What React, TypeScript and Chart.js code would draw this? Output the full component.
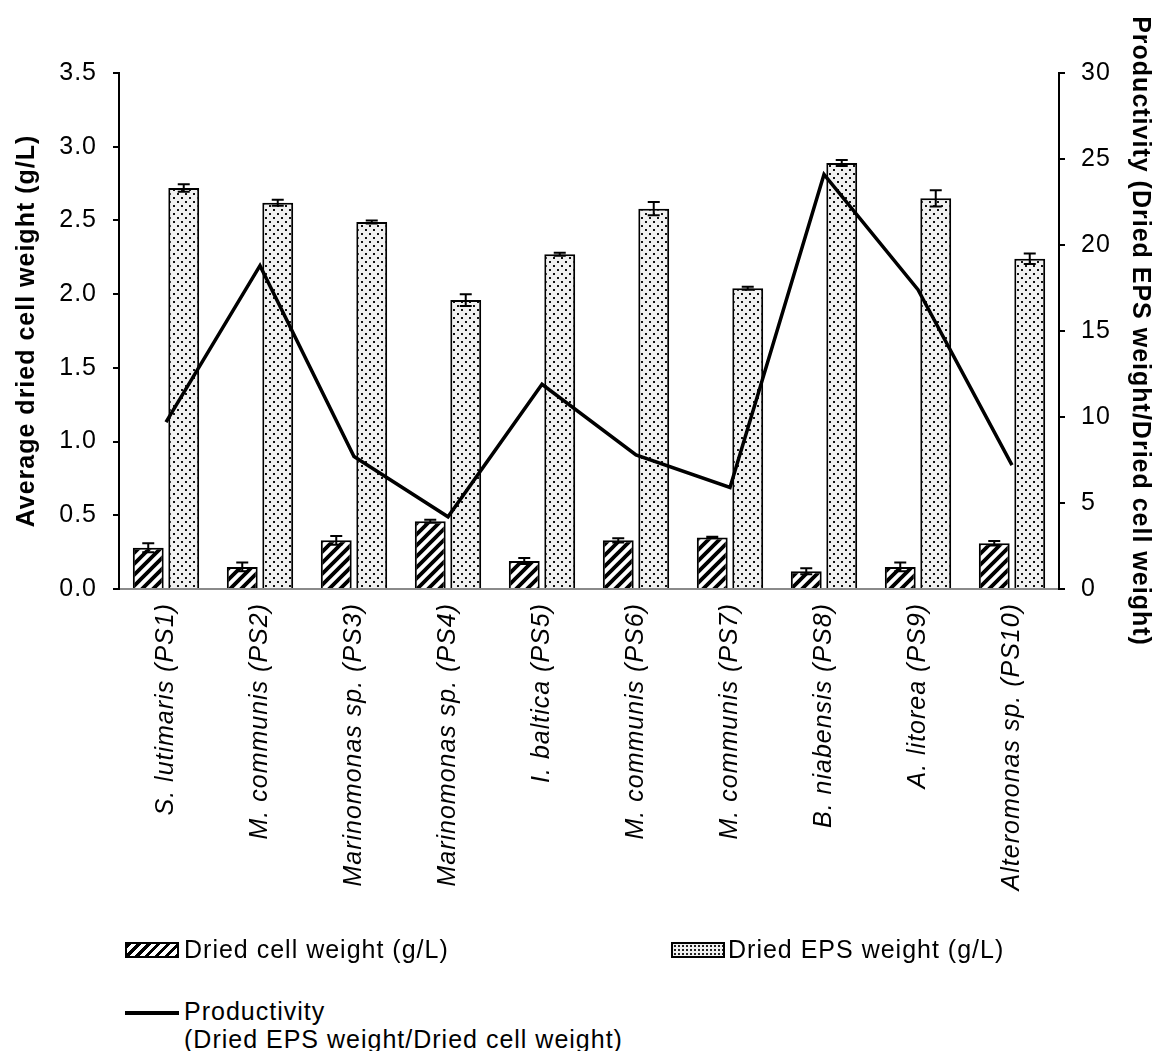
import React, { useEffect, useRef } from "react";
import { Chart, registerables } from "chart.js";

Chart.register(...registerables);

const categories = [
  "S. lutimaris (PS1)",
  "M. communis (PS2)",
  "Marinomonas sp. (PS3)",
  "Marinomonas sp. (PS4)",
  "I. baltica (PS5)",
  "M. communis (PS6)",
  "M. communis (PS7)",
  "B. niabensis (PS8)",
  "A. litorea (PS9)",
  "Alteromonas sp. (PS10)",
];
const cellWeight = [0.28, 0.15, 0.33, 0.46, 0.19, 0.33, 0.35, 0.12, 0.15, 0.31];
const cellWeightError = [0.03, 0.03, 0.03, 0.01, 0.02, 0.015, 0.005, 0.02, 0.03, 0.015];
const epsWeight = [2.72, 2.62, 2.49, 1.96, 2.27, 2.58, 2.04, 2.89, 2.65, 2.24];
const epsWeightError = [0.025, 0.02, 0.01, 0.04, 0.01, 0.045, 0.01, 0.02, 0.055, 0.035];
const productivity = [9.7, 18.8, 7.7, 4.2, 11.9, 7.8, 5.9, 24.1, 17.4, 7.2];
const leftAxisTicks = [0, 0.5, 1.0, 1.5, 2.0, 2.5, 3.0, 3.5];
const rightAxisTicks = [0, 5, 10, 15, 20, 25, 30];

const FONT = "'Liberation Sans', Arial, sans-serif";
const FS = 25;
const SPACING = "1px";

function makeHatch(): CanvasPattern | string {
  const c = document.createElement("canvas");
  const s = 11;
  c.width = s;
  c.height = s;
  const g = c.getContext("2d");
  if (!g) return "#888";
  g.fillStyle = "#ffffff";
  g.fillRect(0, 0, s, s);
  g.strokeStyle = "#000";
  g.lineWidth = 3.8;
  g.beginPath();
  g.moveTo(-s, 2 * s);
  g.lineTo(2 * s, -s);
  g.moveTo(-s, s);
  g.lineTo(s, -s);
  g.moveTo(0, 2 * s);
  g.lineTo(2 * s, 0);
  g.stroke();
  return g.createPattern(c, "repeat") as CanvasPattern;
}

function makeDots(): CanvasPattern | string {
  const c = document.createElement("canvas");
  const s = 8;
  c.width = s;
  c.height = s;
  const g = c.getContext("2d");
  if (!g) return "#eee";
  g.fillStyle = "#f1f1f1";
  g.fillRect(0, 0, s, s);
  g.fillStyle = "#111";
  g.fillRect(1, 1, 2, 2);
  g.fillRect(5, 5, 2, 2);
  return g.createPattern(c, "repeat") as CanvasPattern;
}

const setSpacing = (chart: any) => {
  try {
    (chart.ctx as any).letterSpacing = SPACING;
  } catch (e) {
    /* unsupported */
  }
};

const letterSpacingPlugin = {
  id: "letterSpacing",
  beforeUpdate: setSpacing,
  beforeLayout: setSpacing,
  beforeDraw: setSpacing,
  resize: setSpacing,
};

const errorBarPlugin = {
  id: "errorBars",
  afterDatasetsDraw(chart: any) {
    const ctx = chart.ctx;
    const y = chart.scales.y;
    const sets: [number, number[], number[]][] = [
      [0, cellWeight, cellWeightError],
      [1, epsWeight, epsWeightError],
    ];
    ctx.save();
    ctx.strokeStyle = "#000";
    ctx.lineWidth = 2;
    for (const [idx, vals, errs] of sets) {
      const meta = chart.getDatasetMeta(idx);
      meta.data.forEach((bar: any, i: number) => {
        const x = bar.x;
        const top = y.getPixelForValue(vals[i] + errs[i]);
        const bot = y.getPixelForValue(vals[i] - errs[i]);
        ctx.beginPath();
        ctx.moveTo(x, top);
        ctx.lineTo(x, bot);
        ctx.moveTo(x - 6, top);
        ctx.lineTo(x + 6, top);
        ctx.moveTo(x - 6, bot);
        ctx.lineTo(x + 6, bot);
        ctx.stroke();
      });
    }
    ctx.restore();
  },
};

export default function App() {
  const ref = useRef<HTMLCanvasElement | null>(null);

  useEffect(() => {
    if (!ref.current) return;
    const hatch = makeHatch();
    const dots = makeDots();
    const chart = new Chart(ref.current, {
      type: "bar",
      data: {
        labels: categories,
        datasets: [
          {
            type: "bar",
            label: "Dried cell weight (g/L)",
            data: cellWeight,
            backgroundColor: hatch as any,
            borderColor: "#000",
            borderWidth: 2,
            yAxisID: "y",
            order: 1,
            categoryPercentage: 0.755,
            barPercentage: 0.87,
          },
          {
            type: "bar",
            label: "Dried EPS weight (g/L)",
            data: epsWeight,
            backgroundColor: dots as any,
            borderColor: "#000",
            borderWidth: 2,
            yAxisID: "y",
            order: 2,
            categoryPercentage: 0.755,
            barPercentage: 0.87,
          },
          {
            type: "line",
            label: "Productivity (Dried EPS weight/Dried cell weight)",
            data: productivity,
            borderColor: "#000",
            borderWidth: 3.5,
            pointRadius: 0,
            tension: 0,
            fill: false,
            yAxisID: "y1",
            order: 0,
          } as any,
        ],
      },
      options: {
        animation: false,
        responsive: true,
        maintainAspectRatio: false,
        layout: { padding: { top: 65, left: 0, right: 0, bottom: 0 } },
        plugins: {
          legend: { display: false },
          tooltip: { enabled: false },
        },
        scales: {
          x: {
            grid: { display: false, drawTicks: false },
            border: { display: true, color: "#8a8a8a", width: 2 },
            ticks: {
              autoSkip: false,
              maxRotation: 90,
              minRotation: 90,
              padding: 14,
              color: "#000",
              font: { family: FONT, size: FS, style: "italic" },
            },
            afterFit: (s: any) => {
              s.height = 349;
            },
          },
          y: {
            position: "left",
            min: 0,
            max: 3.5,
            afterBuildTicks: (s: any) => {
              s.ticks = leftAxisTicks.map((v) => ({ value: v }));
            },
            grid: {
              display: true,
              drawOnChartArea: false,
              drawTicks: true,
              tickLength: 6,
              color: "#000",
              lineWidth: 2,
            },
            border: { display: true, color: "#000", width: 2 },
            ticks: {
              padding: 16,
              color: "#000",
              font: { family: FONT, size: FS },
              callback: (v: any) => Number(v).toFixed(1),
            },
            title: {
              display: true,
              text: "Average dried cell weight (g/L)",
              color: "#000",
              padding: { top: 4, bottom: 0 },
              font: { family: FONT, size: FS, weight: "bold" },
            },
            afterFit: (s: any) => {
              s.width = 111;
            },
          },
          y1: {
            position: "right",
            min: 0,
            max: 30,
            afterBuildTicks: (s: any) => {
              s.ticks = rightAxisTicks.map((v) => ({ value: v }));
            },
            grid: {
              display: true,
              drawOnChartArea: false,
              drawTicks: true,
              tickLength: 6,
              color: "#000",
              lineWidth: 2,
            },
            border: { display: true, color: "#000", width: 2 },
            ticks: {
              padding: 16,
              color: "#000",
              font: { family: FONT, size: FS },
              callback: (v: any) => String(v),
            },
            title: {
              display: true,
              text: "Productivity (Dried EPS weight/Dried cell weight)",
              color: "#000",
              padding: { top: 0, bottom: 0 },
              font: { family: FONT, size: FS, weight: "bold" },
            },
            afterFit: (s: any) => {
              s.width = 96;
            },
          },
        },
      },
      plugins: [letterSpacingPlugin, errorBarPlugin],
    });
    return () => chart.destroy();
  }, []);

  const textStyle: React.CSSProperties = {
    position: "absolute",
    fontFamily: FONT,
    fontSize: FS,
    letterSpacing: SPACING,
    color: "#000",
    lineHeight: "27px",
    whiteSpace: "nowrap",
  };
  const swatchBase: React.CSSProperties = {
    position: "absolute",
    width: 50,
    height: 12,
    border: "2px solid #000",
  };

  return (
    <div style={{ position: "relative", width: 1147, height: 1043 }}>
      <div style={{ position: "absolute", left: 0, top: 0, width: 1147, height: 930 }}>
        <canvas ref={ref} />
      </div>
      <div
        style={{
          ...swatchBase,
          left: 117,
          top: 934,
          background:
            "repeating-linear-gradient(135deg, #000 0px, #000 3px, #fff 3px, #fff 7px)",
        }}
      />
      <div style={{ ...textStyle, left: 176, top: 928 }}>Dried cell weight (g/L)</div>
      <div
        style={{
          ...swatchBase,
          left: 663,
          top: 934,
          backgroundColor: "#f1f1f1",
          backgroundImage: "radial-gradient(#222 0.9px, transparent 1.1px)",
          backgroundSize: "4px 4px",
        }}
      />
      <div style={{ ...textStyle, left: 720, top: 928 }}>Dried EPS weight (g/L)</div>
      <div
        style={{
          position: "absolute",
          left: 117,
          top: 1003,
          width: 54,
          height: 4,
          background: "#000",
        }}
      />
      <div style={{ ...textStyle, left: 176, top: 989, lineHeight: "28px" }}>
        Productivity
        <br />
        (Dried EPS weight/Dried cell weight)
      </div>
    </div>
  );
}
